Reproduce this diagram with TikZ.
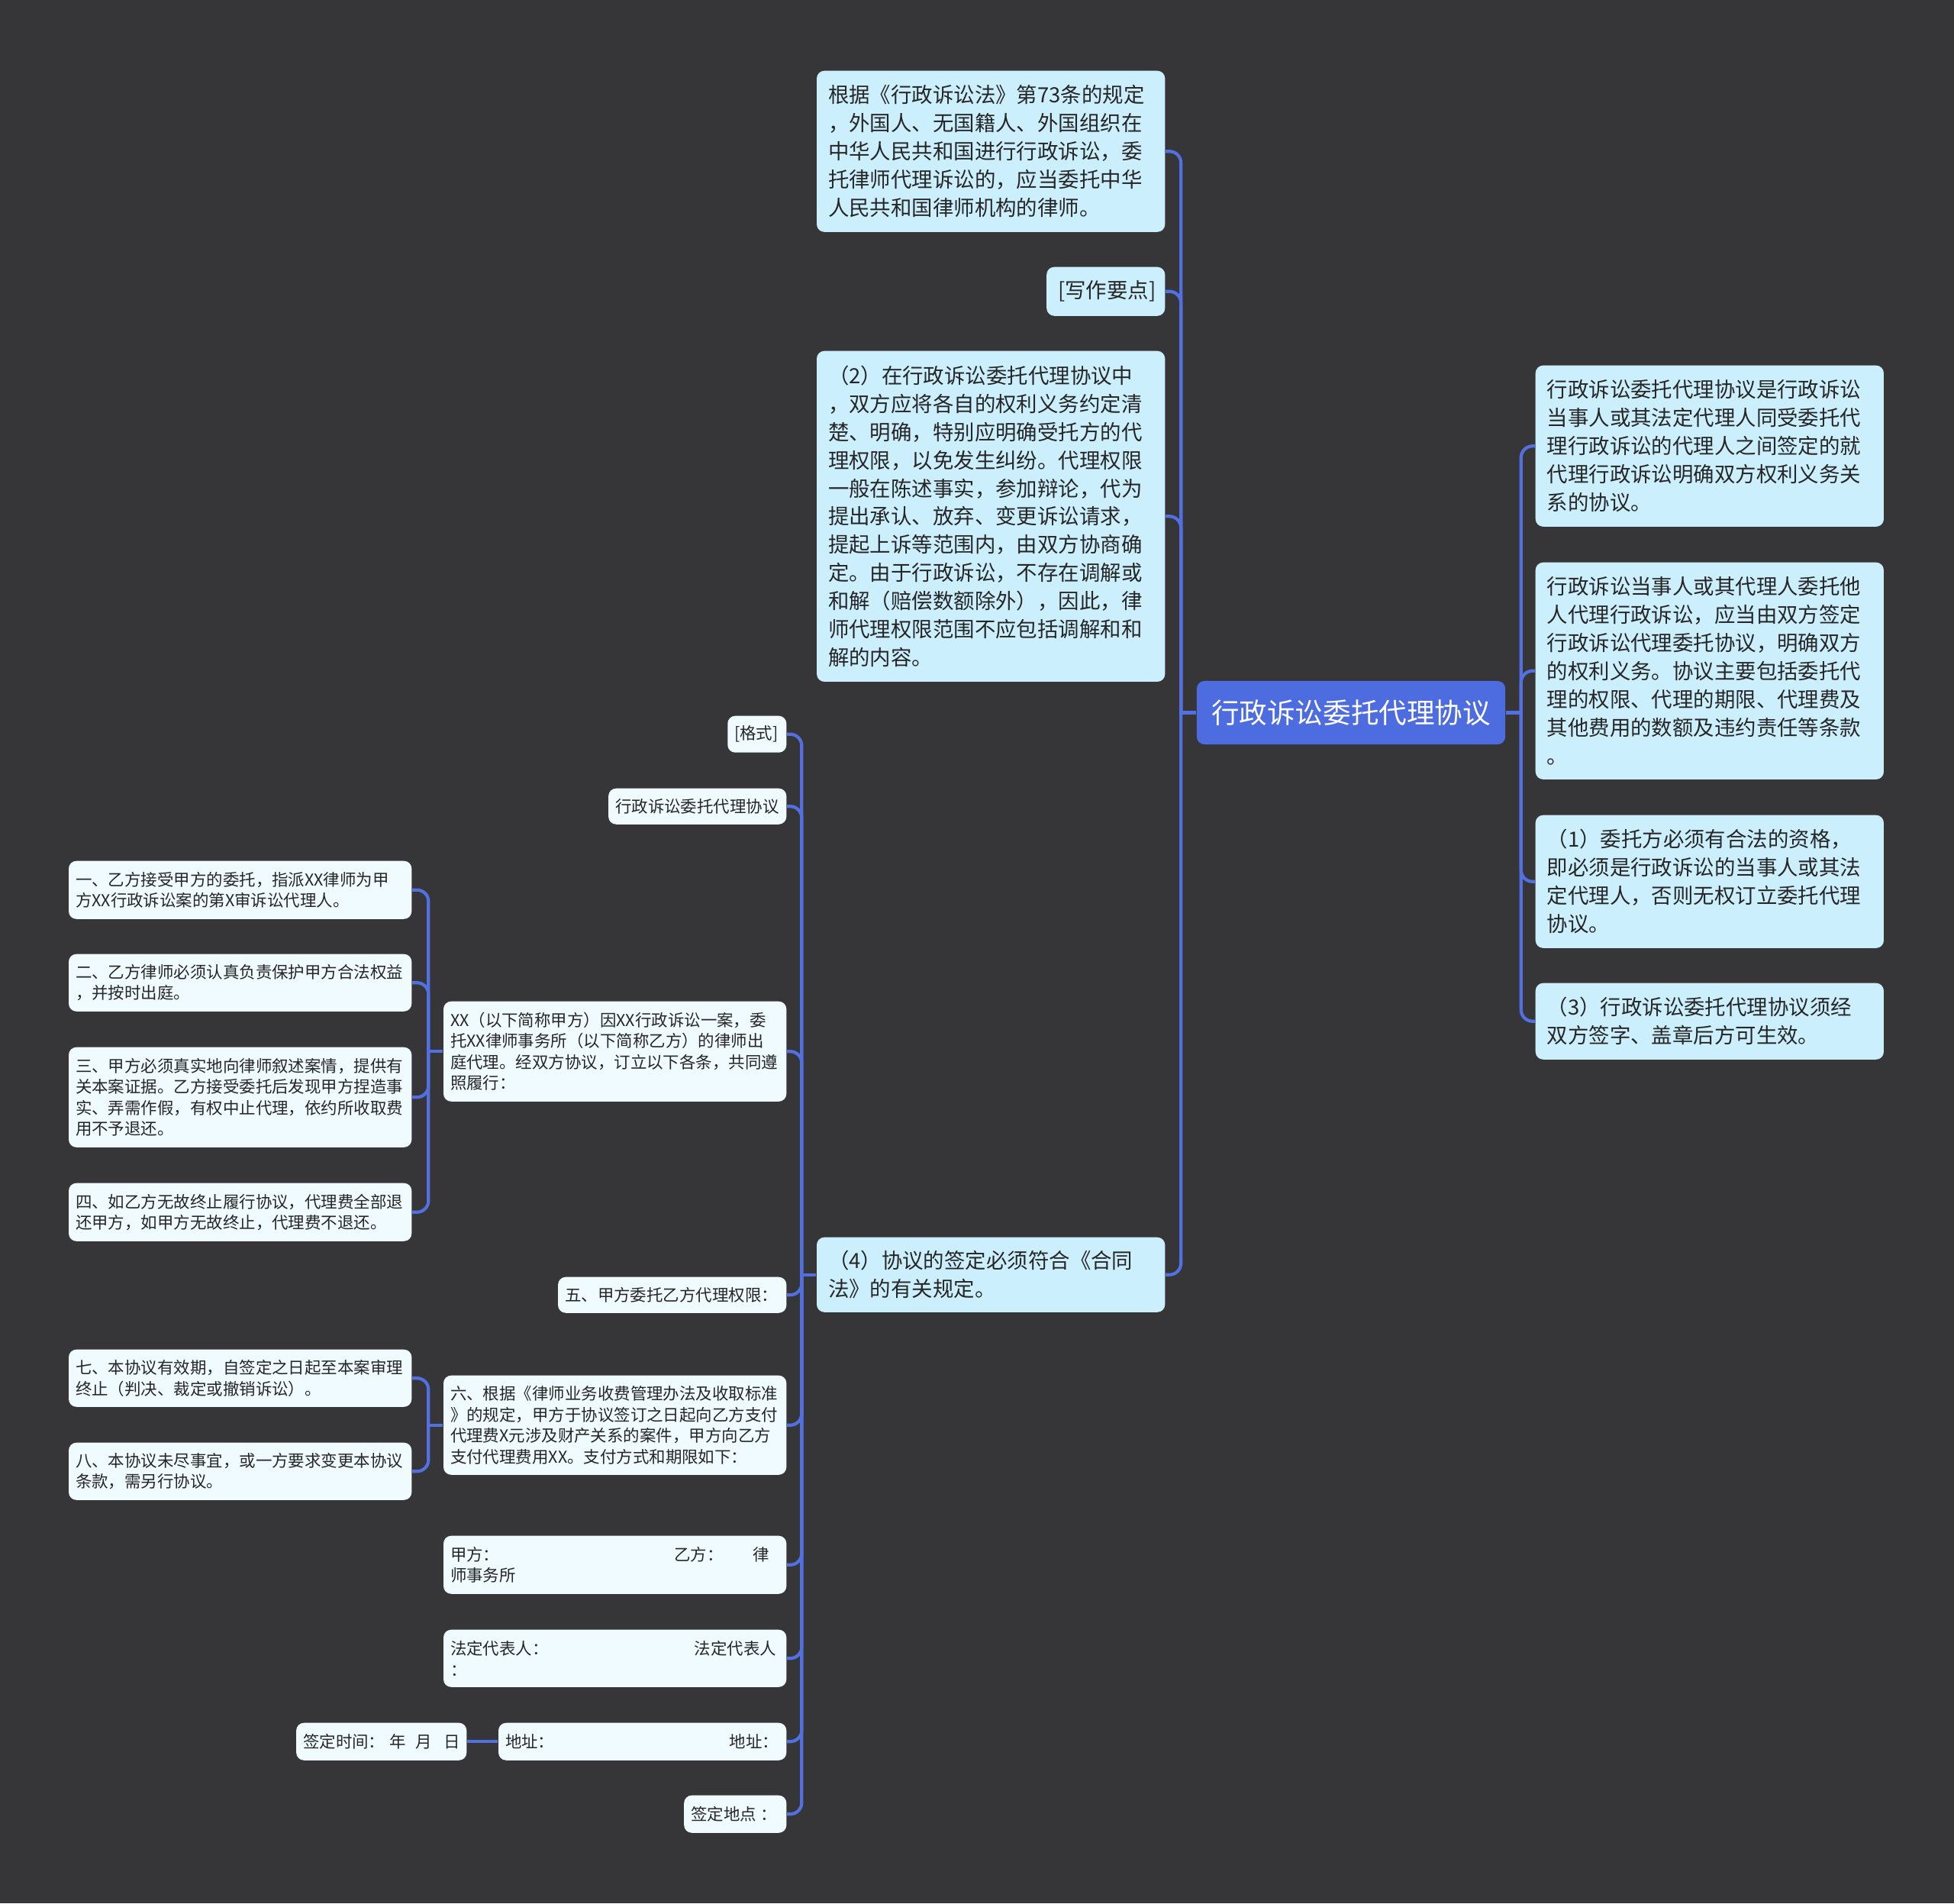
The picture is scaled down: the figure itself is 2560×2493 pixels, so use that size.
\documentclass[tikz,border=0pt]{standalone}
\usepackage{fontspec}
\setmainfont{Noto Sans CJK SC}
\usepackage{tikz}
\usetikzlibrary{calc}

\definecolor{bgdark}{RGB}{54,53,55}
\definecolor{rootblue}{RGB}{77,108,223}
\definecolor{linkblue}{RGB}{82,112,224}
\definecolor{skyfill}{RGB}{204,239,253}
\definecolor{palefill}{RGB}{240,251,255}
\definecolor{inkgray}{RGB}{38,38,38}

\begin{document}
\begin{tikzpicture}[x=0.01cm, y=-0.01cm,
    topic/.style={fill=rootblue, text=white, rounded corners=0.1cm, inner sep=0pt,
        minimum width=4.04cm, minimum height=0.83cm, font=\fontsize{10.4pt}{12pt}\selectfont},
    mainbox/.style={anchor=north east, fill=skyfill, text=inkgray, rounded corners=0.1cm,
        align=left, inner xsep=0.15cm, inner ysep=0pt, text width=4.26cm,
        font=\fontsize{7.8pt}{10.5pt}\selectfont},
    subbox/.style={anchor=north east, fill=palefill, text=inkgray, rounded corners=0.1cm,
        align=left, inner xsep=0.09cm, inner ysep=0pt, text width=#1,
        font=\fontsize{6.1pt}{7.8pt}\selectfont},
    subbox/.default=4.31cm,
    link/.style={draw=linkblue, line width=1.2pt, rounded corners=0.15cm}]

    \fill[bgdark] (0,0) rectangle (2560,2493);

    % centre
    \node[topic] (root) at (1770,933.5) {行政诉讼委托代理协议};

    % right side
    \node[mainbox, anchor=north west, minimum height=2.11cm] (meaning) at (2011,478)
        {行政诉讼委托代理协议是行政诉讼\\当事人或其法定代理人同受委托代\\理行政诉讼的代理人之间签定的就\\代理行政诉讼明确双方权利义务关\\系的协议。};
    \node[mainbox, anchor=north west, minimum height=2.84cm] (content) at (2011,736)
        {行政诉讼当事人或其代理人委托他\\人代理行政诉讼，应当由双方签定\\行政诉讼代理委托协议，明确双方\\的权利义务。协议主要包括委托代\\理的权限、代理的期限、代理费及\\其他费用的数额及违约责任等条款\\。};
    \node[mainbox, anchor=north west, minimum height=1.74cm] (qualify) at (2011,1067)
        {（1）委托方必须有合法的资格，\\即必须是行政诉讼的当事人或其法\\定代理人，否则无权订立委托代理\\协议。};
    \node[mainbox, anchor=north west, minimum height=1.00cm] (effect) at (2011,1287)
        {（3）行政诉讼委托代理协议须经\\双方签字、盖章后方可生效。};

    % left side
    \node[mainbox, minimum height=2.11cm] (law) at (1527,92)
        {根据《行政诉讼法》第73条的规定\\，外国人、无国籍人、外国组织在\\中华人民共和国进行行政诉讼，委\\托律师代理诉讼的，应当委托中华\\人民共和国律师机构的律师。};
    \node[mainbox, text width=1.25cm, minimum height=0.64cm] (points) at (1527,349)
        {[写作要点]};
    \node[mainbox, minimum height=4.33cm] (scope) at (1527,459)
        {（2）在行政诉讼委托代理协议中\\，双方应将各自的权利义务约定清\\楚、明确，特别应明确受托方的代\\理权限，以免发生纠纷。代理权限\\一般在陈述事实，参加辩论，代为\\提出承认、放弃、变更诉讼请求，\\提起上诉等范围内，由双方协商确\\定。由于行政诉讼，不存在调解或\\和解（赔偿数额除外），因此，律\\师代理权限范围不应包括调解和和\\解的内容。};
    \node[mainbox, minimum height=0.98cm] (sign) at (1527,1620)
        {（4）协议的签定必须符合《合同\\法》的有关规定。};

    % format
    \node[subbox=0.59cm, minimum height=0.48cm] (fmt) at (1031,937) {[格式]};
    \node[subbox=2.15cm, minimum height=0.47cm] (title) at (1031,1032) {行政诉讼委托代理协议};
    \node[subbox, minimum height=1.31cm] (parties) at (1031,1311)
        {XX（以下简称甲方）因XX行政诉讼一案，委\\托XX律师事务所（以下简称乙方）的律师出\\庭代理。经双方协议，订立以下各条，共同遵\\照履行：};
    \node[subbox=2.81cm, minimum height=0.47cm] (five) at (1031,1672) {五、甲方委托乙方代理权限：};
    \node[subbox, minimum height=1.30cm] (six) at (1031,1801)
        {六、根据《律师业务收费管理办法及收取标准\\》的规定，甲方于协议签订之日起向乙方支付\\代理费X元涉及财产关系的案件，甲方向乙方\\支付代理费用XX。支付方式和期限如下：};
    \node[subbox, minimum height=0.76cm] (jia) at (1031,2011)
        {甲方：\hspace{2.29cm}乙方：\hspace{0.39cm}律\\师事务所};
    \node[subbox, minimum height=0.75cm] (rep) at (1031,2134)
        {法定代表人：\hspace{1.91cm}法定代表人\\：};
    \node[subbox=3.59cm, minimum height=0.49cm] (addr) at (1031,2256)
        {地址：\hspace{2.29cm}地址：};
    \node[subbox=1.16cm, minimum height=0.49cm] (place) at (1031,2351) {\mbox{签定地点\hspace{0.05cm}：}};
    \node[subbox=2.05cm, minimum height=0.49cm] (date) at (612,2256)
        {\mbox{签定时间：\hspace{0.06cm}年\hspace{0.13cm}月\hspace{0.15cm}日}};

    % clauses
    \node[subbox, minimum height=0.76cm] (one) at (540,1127)
        {一、乙方接受甲方的委托，指派XX律师为甲\\方XX行政诉讼案的第X审诉讼代理人。};
    \node[subbox, minimum height=0.75cm] (two) at (540,1249)
        {二、乙方律师必须认真负责保护甲方合法权益\\，并按时出庭。};
    \node[subbox, minimum height=1.31cm] (three) at (540,1371)
        {三、甲方必须真实地向律师叙述案情，提供有\\关本案证据。乙方接受委托后发现甲方捏造事\\实、弄需作假，有权中止代理，依约所收取费\\用不予退还。};
    \node[subbox, minimum height=0.76cm] (four) at (540,1549)
        {四、如乙方无故终止履行协议，代理费全部退\\还甲方，如甲方无故终止，代理费不退还。};
    \node[subbox, minimum height=0.75cm] (seven) at (540,1767)
        {七、本协议有效期，自签定之日起至本案审理\\终止（判决、裁定或撤销诉讼）。};
    \node[subbox, minimum height=0.75cm] (eight) at (540,1889)
        {八、本协议未尽事宜，或一方要求变更本协议\\条款，需另行协议。};

    % connectors
    \draw[link] (root.east) -- ++(20,0) coordinate (rt);
    \foreach \n in {meaning,content,qualify,effect}
        \draw[link] (rt) |- (\n.west);
    \draw[link] (root.west) -- ++(-20,0) coordinate (lt);
    \foreach \n in {law,points,scope,sign}
        \draw[link] (lt) |- (\n.east);
    \draw[link] (sign.west) -- ++(-19,0) coordinate (st);
    \foreach \n in {fmt,title,parties,five,six,jia,rep,addr,place}
        \draw[link] (st) |- (\n.east);
    \draw[link] (parties.west) -- ++(-19,0) coordinate (pt);
    \foreach \n in {one,two,three,four}
        \draw[link] (pt) |- (\n.east);
    \draw[link] (six.west) -- ++(-19,0) coordinate (xt);
    \foreach \n in {seven,eight}
        \draw[link] (xt) |- (\n.east);
    \draw[link] (addr.west) -- (date.east);
\end{tikzpicture}
\end{document}
